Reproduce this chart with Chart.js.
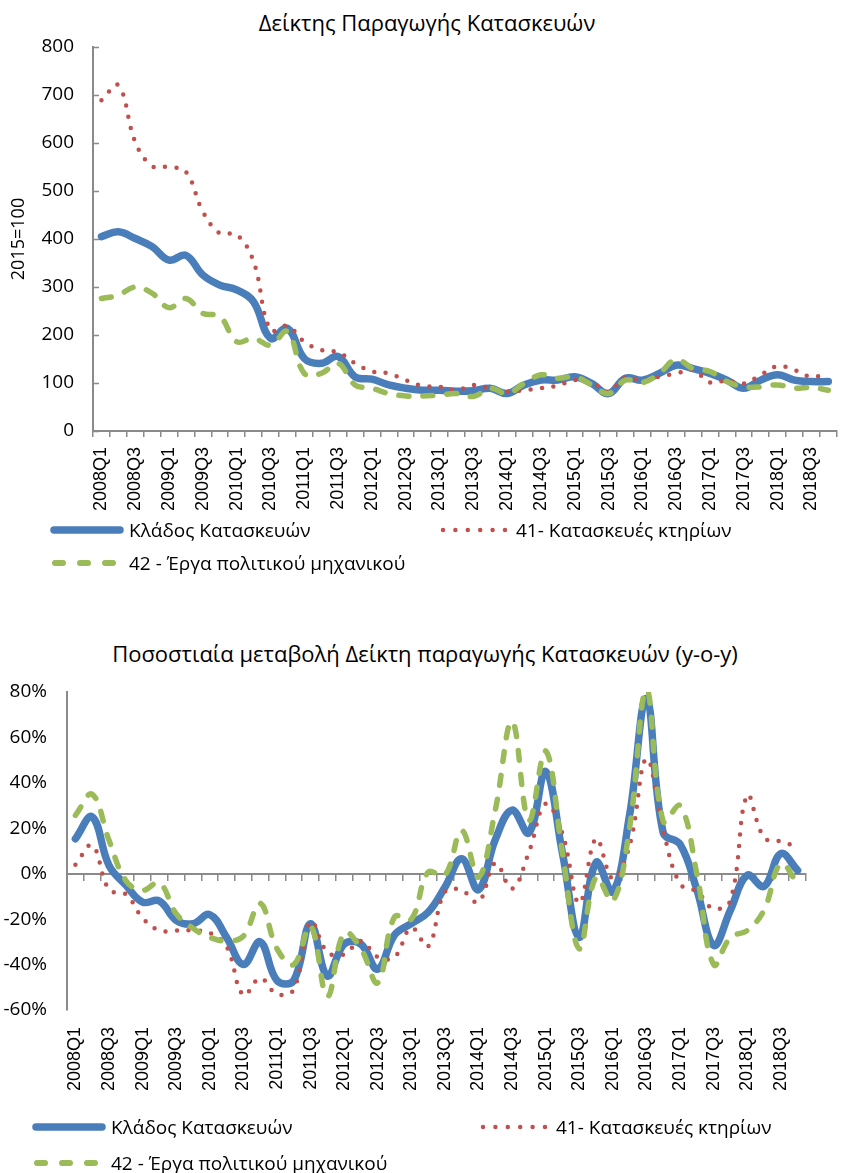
<!DOCTYPE html>
<html>
<head>
<meta charset="utf-8">
<script src="https://cdn.jsdelivr.net/npm/chart.js@4.4.0/dist/chart.umd.min.js"></script>
<style>
  html, body { margin: 0; padding: 0; background: #fff; overflow: hidden; }
  .page { position: relative; width: 842px; height: 1173px; overflow: hidden; font-family: 'Open Sans', 'Noto Sans', sans-serif; color: #000; }
  .title { position: absolute; left: 0; width: 854px; text-align: center; font-size: 22px; line-height: 26px; white-space: nowrap; }
  canvas { position: absolute; left: 0; }
  .leg { position: absolute; display: flex; align-items: center; font-size: 19px; line-height: 24px; white-space: nowrap; }
  .leg svg { margin-right: 5px; }
</style>
</head>
<body>
<div class="page">
  <div class="title" style="top:9px;">Δείκτης Παραγωγής Κατασκευών</div>
  <div style="position:absolute;left:0;top:0;width:860px;height:600px;"><canvas id="indexChart"></canvas></div>
  <div id="legendTop"></div>

  <div class="title" style="top:640px;width:850px;">Ποσοστιαία μεταβολή Δείκτη παραγωγής Κατασκευών (y-o-y)</div>
  <div style="position:absolute;left:0;top:600px;width:842px;height:573px;"><canvas id="yoyChart"></canvas></div>
  <div id="legendBottom"></div>
</div>

<script>
// Quarterly categories 2008Q1 .. 2018Q4
const quarters = [
  '2008Q1','2008Q2','2008Q3','2008Q4','2009Q1','2009Q2','2009Q3','2009Q4',
  '2010Q1','2010Q2','2010Q3','2010Q4','2011Q1','2011Q2','2011Q3','2011Q4',
  '2012Q1','2012Q2','2012Q3','2012Q4','2013Q1','2013Q2','2013Q3','2013Q4',
  '2014Q1','2014Q2','2014Q3','2014Q4','2015Q1','2015Q2','2015Q3','2015Q4',
  '2016Q1','2016Q2','2016Q3','2016Q4','2017Q1','2017Q2','2017Q3','2017Q4',
  '2018Q1','2018Q2','2018Q3','2018Q4'
];

const seriesNames = ['Κλάδος Κατασκευών', '41- Κατασκευές κτηρίων', '42 - Έργα πολιτικού μηχανικού'];

// Index values (2015=100)
const indexTotal = [405,415,401,384,356,366,325,304,294,269,193,214,151,141,155,113,108,96,89,85,
  85,83,84,89,78,96,106,106,113,99,78,110,106,120,137,130,120,106,89,106,117,106,103,103];
const indexBuildings = [689,720,602,552,550,540,457,412,409,353,210,219,186,169,164,141,124,120,106,94,
  92,85,96,89,82,85,89,95,106,101,82,112,106,113,120,127,101,105,99,117,135,127,113,120];
const indexCivil = [276,283,300,287,257,276,245,239,186,193,179,207,120,120,141,96,89,78,73,73,
  75,78,72,89,78,99,117,110,113,96,78,106,101,120,149,130,124,103,92,92,96,89,91,85];

// Year-on-year change, %
const yoyTotal = [15.4,25,3.7,-5,-12.5,-12,-20.5,-22,-18,-28,-40,-30,-47,-47,-22,-45,-31,-31,-42,-27,
  -22,-17,-6,6.6,-7,15,28,18,45,9,-28,5,-8,26,77,18,13,-7,-31.5,-16,-0.7,-5.6,8.8,1.5];
const yoyBuildings = [4,12.5,-7,-9,-19.5,-25,-25,-25,-26,-32,-53.5,-46,-53,-51,-21,-34.5,-35.5,-29.6,-36.7,-36.7,
  -23.8,-32,-8,-7.3,-12.5,4.7,-6.6,9.5,30.8,17.6,-13,15.4,-2.2,12.5,50.6,19,-4.4,-7.8,-15.4,-11.7,34.5,16,14.2,11.7];
const yoyCivil = [25.7,35,14.7,-3,-7.3,-4,-17.6,-24,-28,-29.6,-27.5,-13,-33,-40,-23,-54,-26,-33,-48,-19,
  -20,0.7,-0.7,19,-1.5,28,67,23.5,54,9,-33,-1.5,-12,20.5,81,23,30,0,-40,-28,-25,-16,4.4,-4.4];

const indexRange = [0, 800, 100];
const yoyRange = [-60, 80, 20];

const BLUE = '#4a7ebb';
const RED = '#c0504d';
const GREEN = '#9bbb59';
const AXIS = '#8a8a8a';
const FONT = "'Open Sans', 'Noto Sans', sans-serif";
const TICKFONT = "'Liberation Sans', Arial, sans-serif";

function lineSets(total, buildings, civil) {
  return [
    { label: seriesNames[0], data: total, xAxisID: 'x', borderColor: BLUE, borderWidth: 7.5,
      borderCapStyle: 'round', borderJoinStyle: 'round', pointRadius: 0, tension: 0.4, order: 3 },
    { label: seriesNames[1], data: buildings, xAxisID: 'x', borderColor: RED, borderWidth: 4.5,
      borderDash: [0, 11.5], borderCapStyle: 'round', pointRadius: 0, tension: 0.4, order: 2 },
    { label: seriesNames[2], data: civil, xAxisID: 'x', borderColor: GREEN, borderWidth: 5.5,
      borderDash: [10, 14], borderCapStyle: 'round', pointRadius: 0, tension: 0.4, order: 1 }
  ];
}

// every second quarter gets a label, like the original
function everyOther(val, i) {
  return i % 2 === 0 ? this.getLabelForValue(val) : '';
}

// small tick marks drawn inside the plot on the left axis (top chart)
const innerTicks = {
  id: 'innerTicks',
  beforeDatasetsDraw(chart, args, opts) {
    if (!opts.axis) return;
    const s = chart.scales[opts.axis];
    const ctx = chart.ctx;
    ctx.save();
    ctx.strokeStyle = AXIS;
    ctx.lineWidth = 1.5;
    s.ticks.forEach(t => {
      const y = Math.round(s.getPixelForValue(t.value)) + 0.5;
      ctx.beginPath();
      ctx.moveTo(s.right, y);
      ctx.lineTo(s.right + 6, y);
      ctx.stroke();
    });
    ctx.restore();
  }
};

Chart.defaults.font.family = FONT;
Chart.defaults.color = '#000';

new Chart(document.getElementById('indexChart'), {
  type: 'line',
  data: { labels: quarters, datasets: lineSets(indexTotal, indexBuildings, indexCivil) },
  plugins: [innerTicks],
  options: {
    responsive: true,
    maintainAspectRatio: false,
    animation: false,
    layout: { padding: { top: 47, right: 8, bottom: 0, left: 0 } },
    plugins: { legend: { display: false }, tooltip: { enabled: false }, innerTicks: { axis: 'y' } },
    scales: {
      x: {
        type: 'category',
        offset: true,
        grid: { offset: true, drawOnChartArea: false, drawTicks: true, tickLength: 6, color: AXIS, lineWidth: 1.5 },
        border: { color: AXIS, width: 2 },
        ticks: { autoSkip: false, minRotation: 90, maxRotation: 90, padding: 10,
          font: { family: TICKFONT, size: 18 }, callback: everyOther },
        afterFit(scale) { scale.height = 169; }
      },
      y: {
        min: indexRange[0], max: indexRange[1],
        grid: { display: false, drawTicks: false },
        border: { color: AXIS, width: 2 },
        ticks: { stepSize: indexRange[2], padding: 19, font: { size: 19 } },
        title: { display: true, text: '2015=100', font: { size: 18 }, padding: { top: 8, bottom: 0 } },
        afterFit(scale) { scale.width = 93; }
      }
    }
  }
});

new Chart(document.getElementById('yoyChart'), {
  type: 'line',
  data: { labels: quarters, datasets: lineSets(yoyTotal, yoyBuildings, yoyCivil) },
  options: {
    responsive: true,
    maintainAspectRatio: false,
    animation: false,
    layout: { padding: { top: 92, right: 36, bottom: 0, left: 0 } },
    plugins: { legend: { display: false }, tooltip: { enabled: false } },
    scales: {
      x: {
        type: 'category',
        position: { y: 0 },
        offset: true,
        grid: { offset: true, drawOnChartArea: false, drawTicks: true, tickLength: 6, color: AXIS, lineWidth: 1.5 },
        border: { color: AXIS, width: 2 },
        ticks: { display: false, autoSkip: false }
      },
      x2: {
        type: 'category',
        position: 'bottom',
        offset: true,
        grid: { display: false, drawTicks: false },
        border: { display: false },
        ticks: { autoSkip: false, minRotation: 90, maxRotation: 90, padding: 17,
          font: { family: TICKFONT, size: 18 }, callback: everyOther },
        afterFit(scale) { scale.height = 163; }
      },
      y: {
        min: yoyRange[0], max: yoyRange[1],
        grid: { display: false, drawTicks: true, tickLength: 5, color: AXIS, lineWidth: 1.5 },
        border: { color: AXIS, width: 2 },
        ticks: { stepSize: yoyRange[2], padding: 15, font: { size: 19 }, callback: v => v + '%' },
        afterFit(scale) { scale.width = 67; }
      }
    }
  }
});

// legend rows drawn as html with svg line samples
function sample(kind) {
  if (kind === 0) {
    return '<svg width="74" height="12"><line x1="4" y1="6" x2="70" y2="6" stroke="' + BLUE + '" stroke-width="7.5" stroke-linecap="round"/></svg>';
  }
  if (kind === 1) {
    return '<svg width="72" height="12"><line x1="4" y1="6" x2="68" y2="6" stroke="' + RED + '" stroke-width="4.5" stroke-linecap="round" stroke-dasharray="0 12.4"/></svg>';
  }
  return '<svg width="74" height="12"><line x1="5" y1="6" x2="70" y2="6" stroke="' + GREEN + '" stroke-width="6" stroke-linecap="round" stroke-dasharray="8 17"/></svg>';
}

function legendItem(kind, left, top) {
  return '<div class="leg" style="left:' + left + 'px;top:' + top + 'px;">' + sample(kind) + '<span>' + seriesNames[kind] + '</span></div>';
}

document.getElementById('legendTop').innerHTML =
  legendItem(0, 50, 518) + legendItem(1, 439, 518) + legendItem(2, 50, 551);
document.getElementById('legendBottom').innerHTML =
  legendItem(0, 32, 1115) + legendItem(1, 479, 1115) + legendItem(2, 32, 1151);
</script>
</body>
</html>
